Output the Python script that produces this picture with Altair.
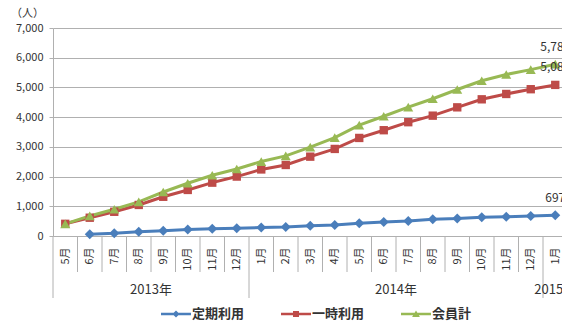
import json
import altair as alt
import pandas as pd

# ---- data -------------------------------------------------------------
months = ["5月", "6月", "7月", "8月", "9月", "10月", "11月", "12月",
          "1月", "2月", "3月", "4月", "5月", "6月", "7月", "8月", "9月", "10月", "11月", "12月",
          "1月"]
years = ["2013年", "2014年", "2015年"]
year_first = [0, 8, 20]
year_last = [7, 19, 20]

series_names = ["定期利用", "一時利用", "会員計"]
teiki = [None, 60, 90, 140, 180, 220, 245, 265, 285, 305, 345, 370, 425, 470, 505, 560, 585, 630, 650, 673, 697]
ichiji = [410, 615, 815, 1045, 1320, 1550, 1795, 2000, 2240, 2390, 2670, 2930, 3300, 3560, 3830, 4050, 4330, 4600, 4780, 4940, 5085]
kaiin = [410, 675, 900, 1150, 1480, 1775, 2045, 2255, 2505, 2695, 2990, 3310, 3730, 4030, 4335, 4620, 4930, 5225, 5435, 5600, 5782]

y_ticks = [0, 1000, 2000, 3000, 4000, 5000, 6000, 7000]

colors = ["#4a7ebb", "#be4b48", "#98b954"]
point_shapes = ["diamond", "square", "triangle-up"]
legend_shapes = [
    "M-1,-0.09L1,-0.09L1,0.09L-1,0.09Z M0,-0.24L0.24,0L0,0.24L-0.24,0Z",
    "M-1,-0.09L1,-0.09L1,0.09L-1,0.09Z M-0.2,-0.2L0.2,-0.2L0.2,0.2L-0.2,0.2Z",
    "M-1,-0.09L1,-0.09L1,0.09L-1,0.09Z M0,-0.24L0.26,0.2L-0.26,0.2Z",
]
point_sizes = [100, 70, 100]

# ---- tables -----------------------------------------------------------
rows = []
for name, vals in zip(series_names, [teiki, ichiji, kaiin]):
    for i, v in enumerate(vals):
        if v is not None:
            rows.append({"idx": i, "month": months[i], "series": name, "value": v})
df = pd.DataFrame(rows)
last_idx = len(months) - 1
df_last = df[df["idx"] == last_idx]

year_bounds = [f - 0.5 for f in year_first]
month_bounds = [i + 0.5 for i in range(len(months) - 1) if (i + 0.5) not in year_bounds]
df_mdiv = pd.DataFrame({"idx": month_bounds})
df_ydiv = pd.DataFrame({"idx": year_bounds})
df_years = pd.DataFrame({"year": years,
                         "idx": [(a + b) / 2 for a, b in zip(year_first, year_last)]})

# ---- scales -----------------------------------------------------------
W, H = 509, 208
band = 24.5
xscale = alt.Scale(domain=[-0.5, W / band - 0.5], nice=False, zero=False)
yscale = alt.Scale(domain=[0, 7000], nice=False)
cscale = alt.Scale(domain=series_names, range=colors)
GRAY = "#b0b0b0"
TXT = "#333333"
FONT = "Noto Sans CJK JP"

label_expr = json.dumps(months, ensure_ascii=False) + "[datum.value]"

x_enc = alt.X("idx:Q", scale=xscale,
              axis=alt.Axis(values=list(range(len(months))), labelExpr=label_expr,
                            labelAngle=270, labelAlign="right", labelBaseline="middle",
                            labelPadding=11, ticks=False, grid=False, title=None,
                            labelFontSize=11, labelColor=TXT, labelOverlap=False,
                            labelFlush=False, domainColor=GRAY, labelBound=False))
y_enc = alt.Y("value:Q", scale=yscale,
              axis=alt.Axis(values=y_ticks, format=",d", tickSize=4, tickColor=GRAY,
                            domainColor=GRAY, gridColor=GRAY, labelPadding=6,
                            labelFontSize=11, labelColor=TXT, labelOverlap=False,
                            title="（人）", titleAngle=0, titleX=-26, titleY=-15,
                            titleAlign="center", titleBaseline="middle",
                            titleFontSize=11, titleFontWeight="normal", titleColor=TXT))

base = alt.Chart(df)

line_layers = []
point_layers = []
for name, col, shp, sz in zip(series_names, colors, point_shapes, point_sizes):
    sub = base.transform_filter(alt.datum.series == name)
    line_layers.append(sub.mark_line(strokeWidth=3, color=col).encode(x=x_enc, y=y_enc))
    point_layers.append(
        sub.mark_point(filled=True, shape=shp, size=sz, opacity=1, strokeWidth=0, color=col)
        .encode(x=x_enc, y=y_enc)
    )

leg = alt.Legend(title=None, orient="none", legendX=108, legendY=271, direction="horizontal",
                 symbolSize=900, symbolStrokeWidth=0, symbolOpacity=1,
                 labelFontSize=13, labelFont=FONT, labelColor=TXT, labelFontWeight="bold",
                 labelOffset=1, columnPadding=36, padding=0)
legend_layer = base.transform_filter("false").mark_point(
    filled=True, size=900, opacity=1).encode(
    color=alt.Color("series:N", scale=cscale, legend=leg),
    shape=alt.Shape("series:N", scale=alt.Scale(domain=series_names, range=legend_shapes),
                    legend=leg),
)

labels = alt.Chart(df_last).mark_text(dy=-17.5, fontSize=12, color=TXT, align="center").encode(
    x=x_enc, y=y_enc, text=alt.Text("value:Q", format=",d"))

mdiv = alt.Chart(df_mdiv).mark_rule(color=GRAY, strokeWidth=1).encode(
    x=x_enc, y=alt.value(H), y2=alt.value(H + 36))
ydiv = alt.Chart(df_ydiv).mark_rule(color=GRAY, strokeWidth=1).encode(
    x=x_enc, y=alt.value(H), y2=alt.value(H + 62))
ytext = alt.Chart(df_years).mark_text(fontSize=13, color=TXT, baseline="middle").encode(
    x=x_enc, y=alt.value(H + 54), text="year:N")

chart = alt.layer(legend_layer, *line_layers, *point_layers, labels, mdiv, ydiv, ytext).properties(
    width=W, height=H,
    autosize=alt.AutoSizeParams(type="none"),
    padding={"left": 53, "top": 28, "right": 0, "bottom": 89},
).configure(font=FONT).configure_view(stroke=None)

chart.save("out.html", embed_options={"renderer": "svg", "actions": False})
